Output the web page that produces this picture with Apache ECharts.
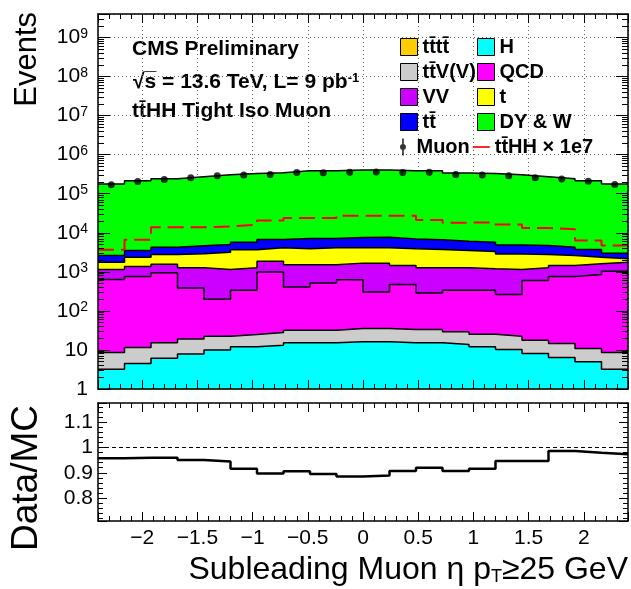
<!DOCTYPE html>
<html>
<head>
<meta charset="utf-8">
<script src="https://cdn.jsdelivr.net/npm/echarts@6/dist/echarts.min.js"></script>
<style>
html, body { margin: 0; padding: 0; background: #fff; }
#chart { width: 631px; height: 589px; }
</style>
</head>
<body>
<div id="chart"></div>
<script>
// bin edges, subleading muon eta (20 bins)
var edges = [-2.4, -2.16, -1.92, -1.68, -1.44, -1.2, -0.96, -0.72, -0.48, -0.24, 0,
             0.24, 0.48, 0.72, 0.96, 1.2, 1.44, 1.68, 1.92, 2.16, 2.4];

// MC per process (events per bin), stacked bottom -> top
var tttt  = [0.01, 0.02, 0.02, 0.03, 0.03, 0.04, 0.04, 0.05, 0.05, 0.05, 0.05, 0.05, 0.05, 0.04, 0.04, 0.03, 0.03, 0.02, 0.02, 0.01];
var higgs = [3.2, 4.5, 6.1, 7.8, 9.9, 12.0, 13.2, 15.2, 15.2, 16.1, 16.1, 15.2, 15.2, 13.8, 12.0, 10.3, 8.1, 6.4, 5.0, 3.2];
var ttvv  = [5.4, 7.1, 9.1, 11.1, 12.6, 12.8, 14.7, 16.8, 16.8, 19.2, 19.2, 18.1, 18.1, 15.2, 13.3, 12.2, 9.7, 8.2, 5.9, 5.4];
var qcd   = [631, 752, 933, 365, 175, 311, 958, 375, 483, 593, 269, 444, 253, 307, 311, 242, 585, 749, 848, 1033];
var vv    = [511, 610, 626, 887, 953, 935, 893, 1107, 999, 1043, 1367, 978, 985, 935, 861, 886, 668, 691, 748, 728];
var stop  = [619, 997, 1206, 1613, 2033, 2385, 2232, 2368, 2597, 2440, 2440, 2427, 2453, 2245, 2114, 1733, 1509, 1163, 764, 383];
var ttbar = [848, 1145, 1486, 1750, 1828, 2072, 2603, 3230, 3001, 3440, 3580, 3100, 2883, 2565, 2417, 2014, 1930, 1648, 1353, 853];
var dyw   = [174400, 210500, 237700, 267400, 300000, 325300, 337300, 378900, 378900, 395400,
             395300, 379000, 379400, 333900, 325300, 300100, 267300, 237700, 210300, 174000];

// signal x 1e7 and data
var tthh  = [3700, 6600, 13800, 13800, 14600, 16200, 20500, 24000, 24000, 27500,
             27500, 27500, 21300, 18200, 18500, 16200, 13300, 12300, 6300, 4700];
var muon  = [169400, 205200, 232100, 258400, 287900, 303200, 308600, 349700, 345500, 356700,
             358300, 350100, 355100, 312000, 303200, 288500, 257300, 238600, 209500, 172200];
var ratio = [0.957, 0.959, 0.959, 0.950, 0.944, 0.916, 0.897, 0.906, 0.895, 0.885,
             0.889, 0.907, 0.920, 0.907, 0.916, 0.946, 0.946, 0.986, 0.979, 0.973];

var FONT = 'Liberation Sans';

// stack order bottom -> top
var procs = [
	{ name: 'tt\u0304tt\u0304', vals: tttt,  color: '#ffcc00' },
	{ name: 'H',               vals: higgs, color: '#00ffff' },
	{ name: 'tt\u0304V(V)',    vals: ttvv,  color: '#cccccc' },
	{ name: 'QCD',             vals: qcd,   color: '#ff00ff' },
	{ name: 'VV',              vals: vv,    color: '#cc00ff' },
	{ name: 't',               vals: stop,  color: '#ffff00' },
	{ name: 'tt\u0304',        vals: ttbar, color: '#0000ff' },
	{ name: 'DY & W',          vals: dyw,   color: '#00ff00' }
];

function stepData(vals) {
	var d = vals.map(function (v, i) { return [edges[i], v]; });
	d.push([edges[vals.length], vals[vals.length - 1]]);
	return d;
}
function centerData(vals) {
	return vals.map(function (v, i) { return [(edges[i] + edges[i + 1]) / 2, v]; });
}

// cumulative sums so each stacked layer is filled down to the axis, top layer drawn first
var running = edges.slice(1).map(function () { return 0; });
var stackSeries = procs.map(function (p) {
	running = running.map(function (r, i) { return r + p.vals[i]; });
	return {
		name: p.name, type: 'line', step: 'end',
		xAxisIndex: 0, yAxisIndex: 0,
		data: stepData(running),
		symbol: 'none', showSymbol: false,
		lineStyle: { color: '#000', width: 1.5 },
		itemStyle: { color: p.color },
		areaStyle: { color: p.color, opacity: 1, origin: 'start' },
		emphasis: { disabled: true }
	};
}).reverse();

// frame axes drawn over the fills
function frameX(grid, pos, labels) {
	return {
		type: 'value', gridIndex: grid, position: pos, min: -2.4, max: 2.4, splitNumber: 10, z: 10,
		axisLine: { show: true, onZero: false, lineStyle: { color: '#000', width: 1.5 } },
		axisTick: { show: true, inside: true, length: 9, lineStyle: { color: '#000' } },
		minorTick: { show: true, splitNumber: 5, length: 5, lineStyle: { color: '#000' } },
		axisLabel: {
			show: labels, showMinLabel: false, showMaxLabel: false, margin: 7,
			fontFamily: FONT, fontSize: 21, color: '#000',
			formatter: function (v) { return String(v).replace('-', '\u2212'); }
		},
		splitLine: { show: false }
	};
}
function frameLogY(pos, labels) {
	return {
		type: 'log', logBase: 10, gridIndex: 0, position: pos, min: 1, max: 4e9, z: 10,
		axisLine: { show: true, onZero: false, lineStyle: { color: '#000', width: 1.5 } },
		axisTick: { show: true, inside: true, length: 12, lineStyle: { color: '#000' } },
		minorTick: { show: true, splitNumber: 9, length: 6, lineStyle: { color: '#000' } },
		axisLabel: {
			show: labels, showMaxLabel: false, margin: 10, color: '#000',
			formatter: function (v) {
				var e = Math.round(Math.log10(v));
				if (e === 0) return '{b|1}';
				if (e === 1) return '{b|10}';
				return '{b|10}{sup|' + e + '}';
			},
			rich: {
				b: { fontFamily: FONT, fontSize: 21, lineHeight: 21, verticalAlign: 'bottom', color: '#000' },
				sup: { fontFamily: FONT, fontSize: 14, lineHeight: 14, verticalAlign: 'top', padding: [0, 0, 11, 0], color: '#000' }
			}
		},
		splitLine: { show: false }
	};
}
function frameRatioY(pos, labels) {
	return {
		type: 'value', gridIndex: 1, position: pos, min: 0.71, max: 1.175, splitNumber: 5, z: 10,
		axisLine: { show: true, onZero: false, lineStyle: { color: '#000', width: 1.5 } },
		axisTick: { show: true, inside: true, length: 9, lineStyle: { color: '#000' } },
		minorTick: { show: true, splitNumber: 5, length: 5, lineStyle: { color: '#000' } },
		axisLabel: { show: labels, showMinLabel: false, showMaxLabel: false, margin: 5,
			fontFamily: FONT, fontSize: 21, color: '#000' },
		splitLine: { show: false }
	};
}

var chart = echarts.init(document.getElementById('chart'), null, { renderer: 'canvas' });

var legendText = { fontFamily: FONT, fontWeight: 'bold', fontSize: 20, color: '#000', lineHeight: 17 };
var legendBase = {
	orient: 'vertical', top: 37, itemWidth: 17, itemHeight: 17, itemGap: 5,
	icon: 'rect', selectedMode: false, textStyle: legendText, padding: 0,
	itemStyle: { borderColor: '#000', borderWidth: 1 }
};

chart.setOption({
	animation: false,
	textStyle: { fontFamily: FONT },
	grid: [
		{ left: 98, top: 14, width: 530, height: 375, outerBoundsMode: 'none' },
		{ left: 98, top: 403, width: 530, height: 118, outerBoundsMode: 'none' }
	],
	legend: [
		Object.assign({}, legendBase, { left: 400, data: ['tt\u0304tt\u0304', 'tt\u0304V(V)', 'VV', 'tt\u0304'] }),
		Object.assign({}, legendBase, { left: 477, data: ['H', 'QCD', 't', 'DY & W'] }),
		{
			orient: 'horizontal', left: 400, top: 137, itemWidth: 17, itemHeight: 17, itemGap: 3,
			selectedMode: false, textStyle: legendText, padding: 0,
			data: [
				{ name: 'Muon', icon: 'path://M9,0L11,0L11,20L9,20Z M10,6.5A3.5,3.5 0 1,1 10,13.5A3.5,3.5 0 1,1 10,6.5Z', itemStyle: { color: '#000' } },
				{ name: 'tt\u0304HH \u00d7 1e7', icon: 'path://M0,9L20,9L20,11L0,11Z', itemStyle: { color: '#ff0000' } }
			]
		}
	],
	xAxis: [
		{ type: 'value', gridIndex: 0, min: -2.4, max: 2.4, splitNumber: 10,
		  axisLine: { show: false, onZero: false }, axisTick: { show: false }, axisLabel: { show: false },
		  splitLine: { show: true, lineStyle: { color: '#666', type: [1, 3], width: 1 } } },
		frameX(0, 'bottom', false),
		frameX(0, 'top', false),
		frameX(1, 'bottom', true),
		frameX(1, 'top', false)
	],
	yAxis: [
		{ type: 'log', logBase: 10, gridIndex: 0, min: 1, max: 4e9,
		  axisLine: { show: false, onZero: false }, axisTick: { show: false }, axisLabel: { show: false },
		  splitLine: { show: true, lineStyle: { color: '#666', type: [1, 3], width: 1 } } },
		frameLogY('left', true),
		frameLogY('right', false),
		frameRatioY('left', true),
		frameRatioY('right', false)
	],
	graphic: [
		{ type: 'text', x: 27, y: 12, rotation: Math.PI / 2,
		  style: { text: 'Events', fontFamily: FONT, fontSize: 31, fill: '#000', align: 'right', verticalAlign: 'middle' } },
		{ type: 'text', x: 27, y: 405, rotation: Math.PI / 2,
		  style: { text: 'Data/MC', fontFamily: FONT, fontSize: 37, fill: '#000', align: 'right', verticalAlign: 'middle' } },
		{ type: 'text', x: 628, y: 570,
		  style: {
			text: '{m|Subleading Muon \u03b7 p}{s|T}{m|\u226525 GeV}', align: 'right', verticalAlign: 'middle',
			rich: {
				m: { fontFamily: FONT, fontSize: 32, lineHeight: 32, verticalAlign: 'top', fill: '#000' },
				s: { fontFamily: FONT, fontSize: 18, lineHeight: 18, verticalAlign: 'bottom', padding: [34, 0, 0, 0], fill: '#000' }
			}
		  } },
		{ type: 'text', x: 132, y: 49,
		  style: { text: 'CMS Preliminary', fontFamily: FONT, fontWeight: 'bold', fontSize: 21, fill: '#000', align: 'left', verticalAlign: 'middle' } },
		{ type: 'text', x: 133, y: 82,
		  style: {
			text: '{m|\u221as\u0305 = 13.6 TeV, L= 9 pb}{sup|-1}', align: 'left', verticalAlign: 'middle',
			rich: {
				m: { fontFamily: FONT, fontWeight: 'bold', fontSize: 21, lineHeight: 21, verticalAlign: 'bottom', fill: '#000' },
				sup: { fontFamily: FONT, fontWeight: 'bold', fontSize: 13, lineHeight: 13, verticalAlign: 'top', padding: [0, 0, 10, 0], fill: '#000' }
			}
		  } },
		{ type: 'text', x: 132, y: 111,
		  style: { text: 'tt\u0304HH Tight Iso Muon', fontFamily: FONT, fontWeight: 'bold', fontSize: 21, fill: '#000', align: 'left', verticalAlign: 'middle' } }
	],
	series: stackSeries.concat([
		{
			name: 'tt\u0304HH \u00d7 1e7', type: 'line', step: 'end', xAxisIndex: 0, yAxisIndex: 0, z: 4,
			data: stepData(tthh), symbol: 'none', showSymbol: false,
			itemStyle: { color: '#ff0000' },
			lineStyle: { color: '#ff0000', width: 2, type: [16, 7] },
			emphasis: { disabled: true }
		},
		{
			name: 'Muon', type: 'scatter', xAxisIndex: 0, yAxisIndex: 0, z: 5,
			data: centerData(muon), symbol: 'circle', symbolSize: 7,
			itemStyle: { color: '#000' }, emphasis: { disabled: true }
		},
		{
			name: 'ratio', type: 'line', step: 'end', xAxisIndex: 3, yAxisIndex: 3, z: 5,
			data: stepData(ratio), symbol: 'none', showSymbol: false,
			lineStyle: { color: '#000', width: 2.5 },
			emphasis: { disabled: true },
			markLine: {
				silent: true, symbol: 'none', label: { show: false },
				lineStyle: { color: '#000', type: [4, 3], width: 1 },
				data: [{ yAxis: 1 }]
			}
		}
	])
});
</script>
</body>
</html>
